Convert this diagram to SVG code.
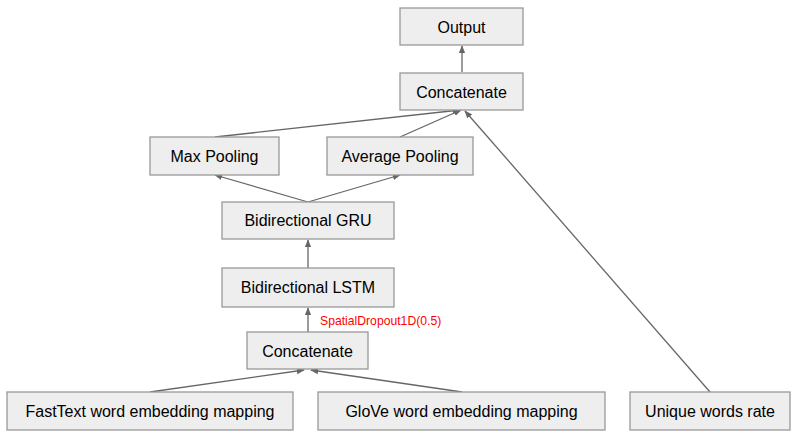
<svg xmlns="http://www.w3.org/2000/svg" width="807" height="448" viewBox="0 0 807 448">
<style>
.box{fill:#eeeeee;stroke:#999999;stroke-width:1.3}
.lbl{font-family:"Liberation Sans",Arial,sans-serif;font-size:16px;fill:#000;text-anchor:middle;dominant-baseline:central}
.edge{stroke:#666666;stroke-width:1.3;fill:none;marker-end:url(#ah)}
.note{font-family:"Liberation Sans",Arial,sans-serif;font-size:12.2px;fill:#ff0000}
</style>
<defs>
<marker id="ah" viewBox="0 0 10 10" refX="9" refY="5" markerWidth="8" markerHeight="8" markerUnits="userSpaceOnUse" orient="auto">
<path d="M0,1 L10,5 L0,9 z" fill="#666666"/>
</marker>
</defs>
<g id="connectors">
<line class="edge" x1="462" y1="72" x2="462" y2="46"/>
<line class="edge" x1="215" y1="137" x2="460" y2="110"/>
<line class="edge" x1="400" y1="137" x2="461" y2="110"/>
<line class="edge" x1="710" y1="392" x2="465" y2="111"/>
<line class="edge" x1="308" y1="202" x2="215" y2="175"/>
<line class="edge" x1="308" y1="202" x2="400" y2="175"/>
<line class="edge" x1="308" y1="268" x2="308" y2="240"/>
<line class="edge" x1="308" y1="332" x2="308" y2="308"/>
<line class="edge" x1="150" y1="392" x2="304" y2="370"/>
<line class="edge" x1="462" y1="392" x2="311" y2="370"/>
</g>
<g id="n-output"><rect class="box" x="400" y="8" width="123" height="37"/><text class="lbl" x="461.5" y="27">Output</text></g>
<g id="n-concat-top"><rect class="box" x="400" y="73" width="123" height="37"/><text class="lbl" x="461.5" y="92">Concatenate</text></g>
<g id="n-maxpool"><rect class="box" x="150" y="137" width="129" height="38"/><text class="lbl" x="214.5" y="156">Max Pooling</text></g>
<g id="n-avgpool"><rect class="box" x="327" y="137" width="146" height="38"/><text class="lbl" x="400" y="156">Average Pooling</text></g>
<g id="n-gru"><rect class="box" x="222" y="202" width="172" height="37"/><text class="lbl" x="308" y="220.5">Bidirectional GRU</text></g>
<g id="n-lstm"><rect class="box" x="222" y="268" width="172" height="39"/><text class="lbl" x="308" y="287.5">Bidirectional LSTM</text></g>
<text class="note" x="320" y="325">SpatialDropout1D(0.5)</text>
<g id="n-concat-bottom"><rect class="box" x="247" y="332" width="121" height="37"/><text class="lbl" x="307.5" y="351">Concatenate</text></g>
<g id="n-fasttext"><rect class="box" x="7" y="392" width="286" height="38"/><text class="lbl" x="150" y="411">FastText word embedding mapping</text></g>
<g id="n-glove"><rect class="box" x="318" y="392" width="287" height="38"/><text class="lbl" x="461.5" y="411">GloVe word embedding mapping</text></g>
<g id="n-unique"><rect class="box" x="630" y="392" width="160" height="38"/><text class="lbl" x="710" y="411">Unique words rate</text></g>
</svg>
